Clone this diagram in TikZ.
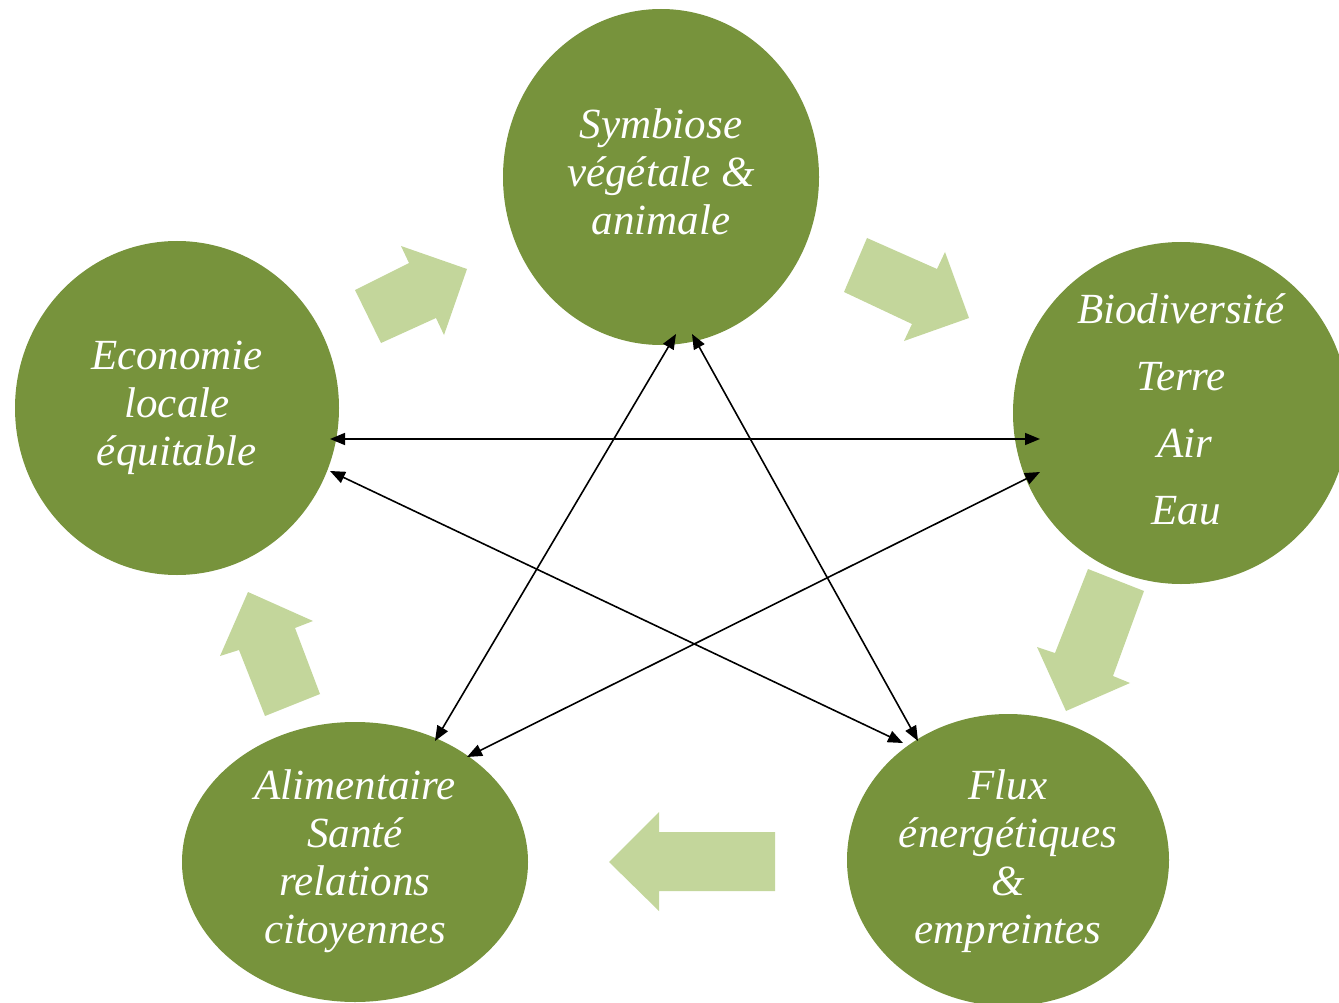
\documentclass[tikz,border=0pt]{standalone}
\usepackage{fontspec}
\setmainfont{Liberation Serif}
\usetikzlibrary{shapes.geometric,arrows.meta}
\definecolor{olive}{HTML}{77933C}
\definecolor{lightolive}{HTML}{C3D69B}
\tikzset{
  bubble/.style={ellipse, fill=olive, draw=none, inner sep=0pt},
  lbl/.style={text=white, align=center, font=\fontsize{43}{48}\selectfont\itshape, inner sep=0pt},
  fat/.style={fill=lightolive, draw=none},
  link/.style={line width=1.6pt, {Triangle[length=15pt,width=12pt]}-{Triangle[length=15pt,width=12pt]}}
}
\begin{document}
\begin{tikzpicture}[x=1pt,y=-1pt]
\useasboundingbox (0,0) rectangle (1339,1003);
\clip (0,0) rectangle (1339,1003);
% circles
\node[bubble, minimum width=316pt, minimum height=336pt] (top) at (661,177) {};
\node[bubble, minimum width=336pt, minimum height=342pt] (right) at (1181,413) {};
\node[bubble, minimum width=324pt, minimum height=334pt] (left) at (177,408) {};
\node[bubble, minimum width=346pt, minimum height=280pt] (bl) at (355,862) {};
\node[bubble, minimum width=322pt, minimum height=292pt] (br) at (1008,860) {};
% labels
\node[lbl] (ttop) at (661,172) {Symbiose\\végétale \&\\animale};
\node[lbl] (tleft) at (177,408) {Economie\\locale\\équitable};
\node[lbl] (tbl) at (355,861) {Alimentaire\\Santé\\relations\\citoyennes};
\node[lbl] (tbr) at (1008,861) {Flux\\énergétiques\\\&\\empreintes};
\node[lbl, font=\fontsize{43}{67}\selectfont\itshape] (tright) at (1181,409) {Biodiversité\\Terre\\\hspace*{8pt}Air\\\hspace*{10pt}Eau};
% fat arrows
\fill[fat] (355,290) -- (409,263) -- (401,246) -- (467,269) -- (444,335) -- (436,318) -- (381,343) -- cycle;
\fill[fat] (867,238) -- (937,269) -- (945,252) -- (969,318) -- (904,341) -- (912,324) -- (844,292) -- cycle;
\fill[fat] (1088,569) -- (1144,591) -- (1113,676) -- (1130,683) -- (1066,711) -- (1037,647) -- (1055,653) -- cycle;
\fill[fat] (775,832) -- (775,891) -- (659,891) -- (659,911) -- (609,862) -- (659,812) -- (659,832) -- cycle;
\fill[fat] (320,694) -- (265,716) -- (239,650) -- (220,656) -- (248,592) -- (313,621) -- (295,628) -- cycle;
% connector endpoints
\coordinate (lA) at (330,439);
\coordinate (lB) at (330,471);
\coordinate (rA) at (1040,439);
\coordinate (rB) at (1040,472);
\coordinate (tA) at (676,334);
\coordinate (tB) at (692,334);
\coordinate (blA) at (435,741);
\coordinate (blB) at (467,757);
\coordinate (brA) at (903,743);
\coordinate (brB) at (918,741);
\draw[link] (lA) -- (rA);
\draw[link] (lB) -- (brA);
\draw[link] (tA) -- (blA);
\draw[link] (tB) -- (brB);
\draw[link] (rB) -- (blB);
\end{tikzpicture}
\end{document}
